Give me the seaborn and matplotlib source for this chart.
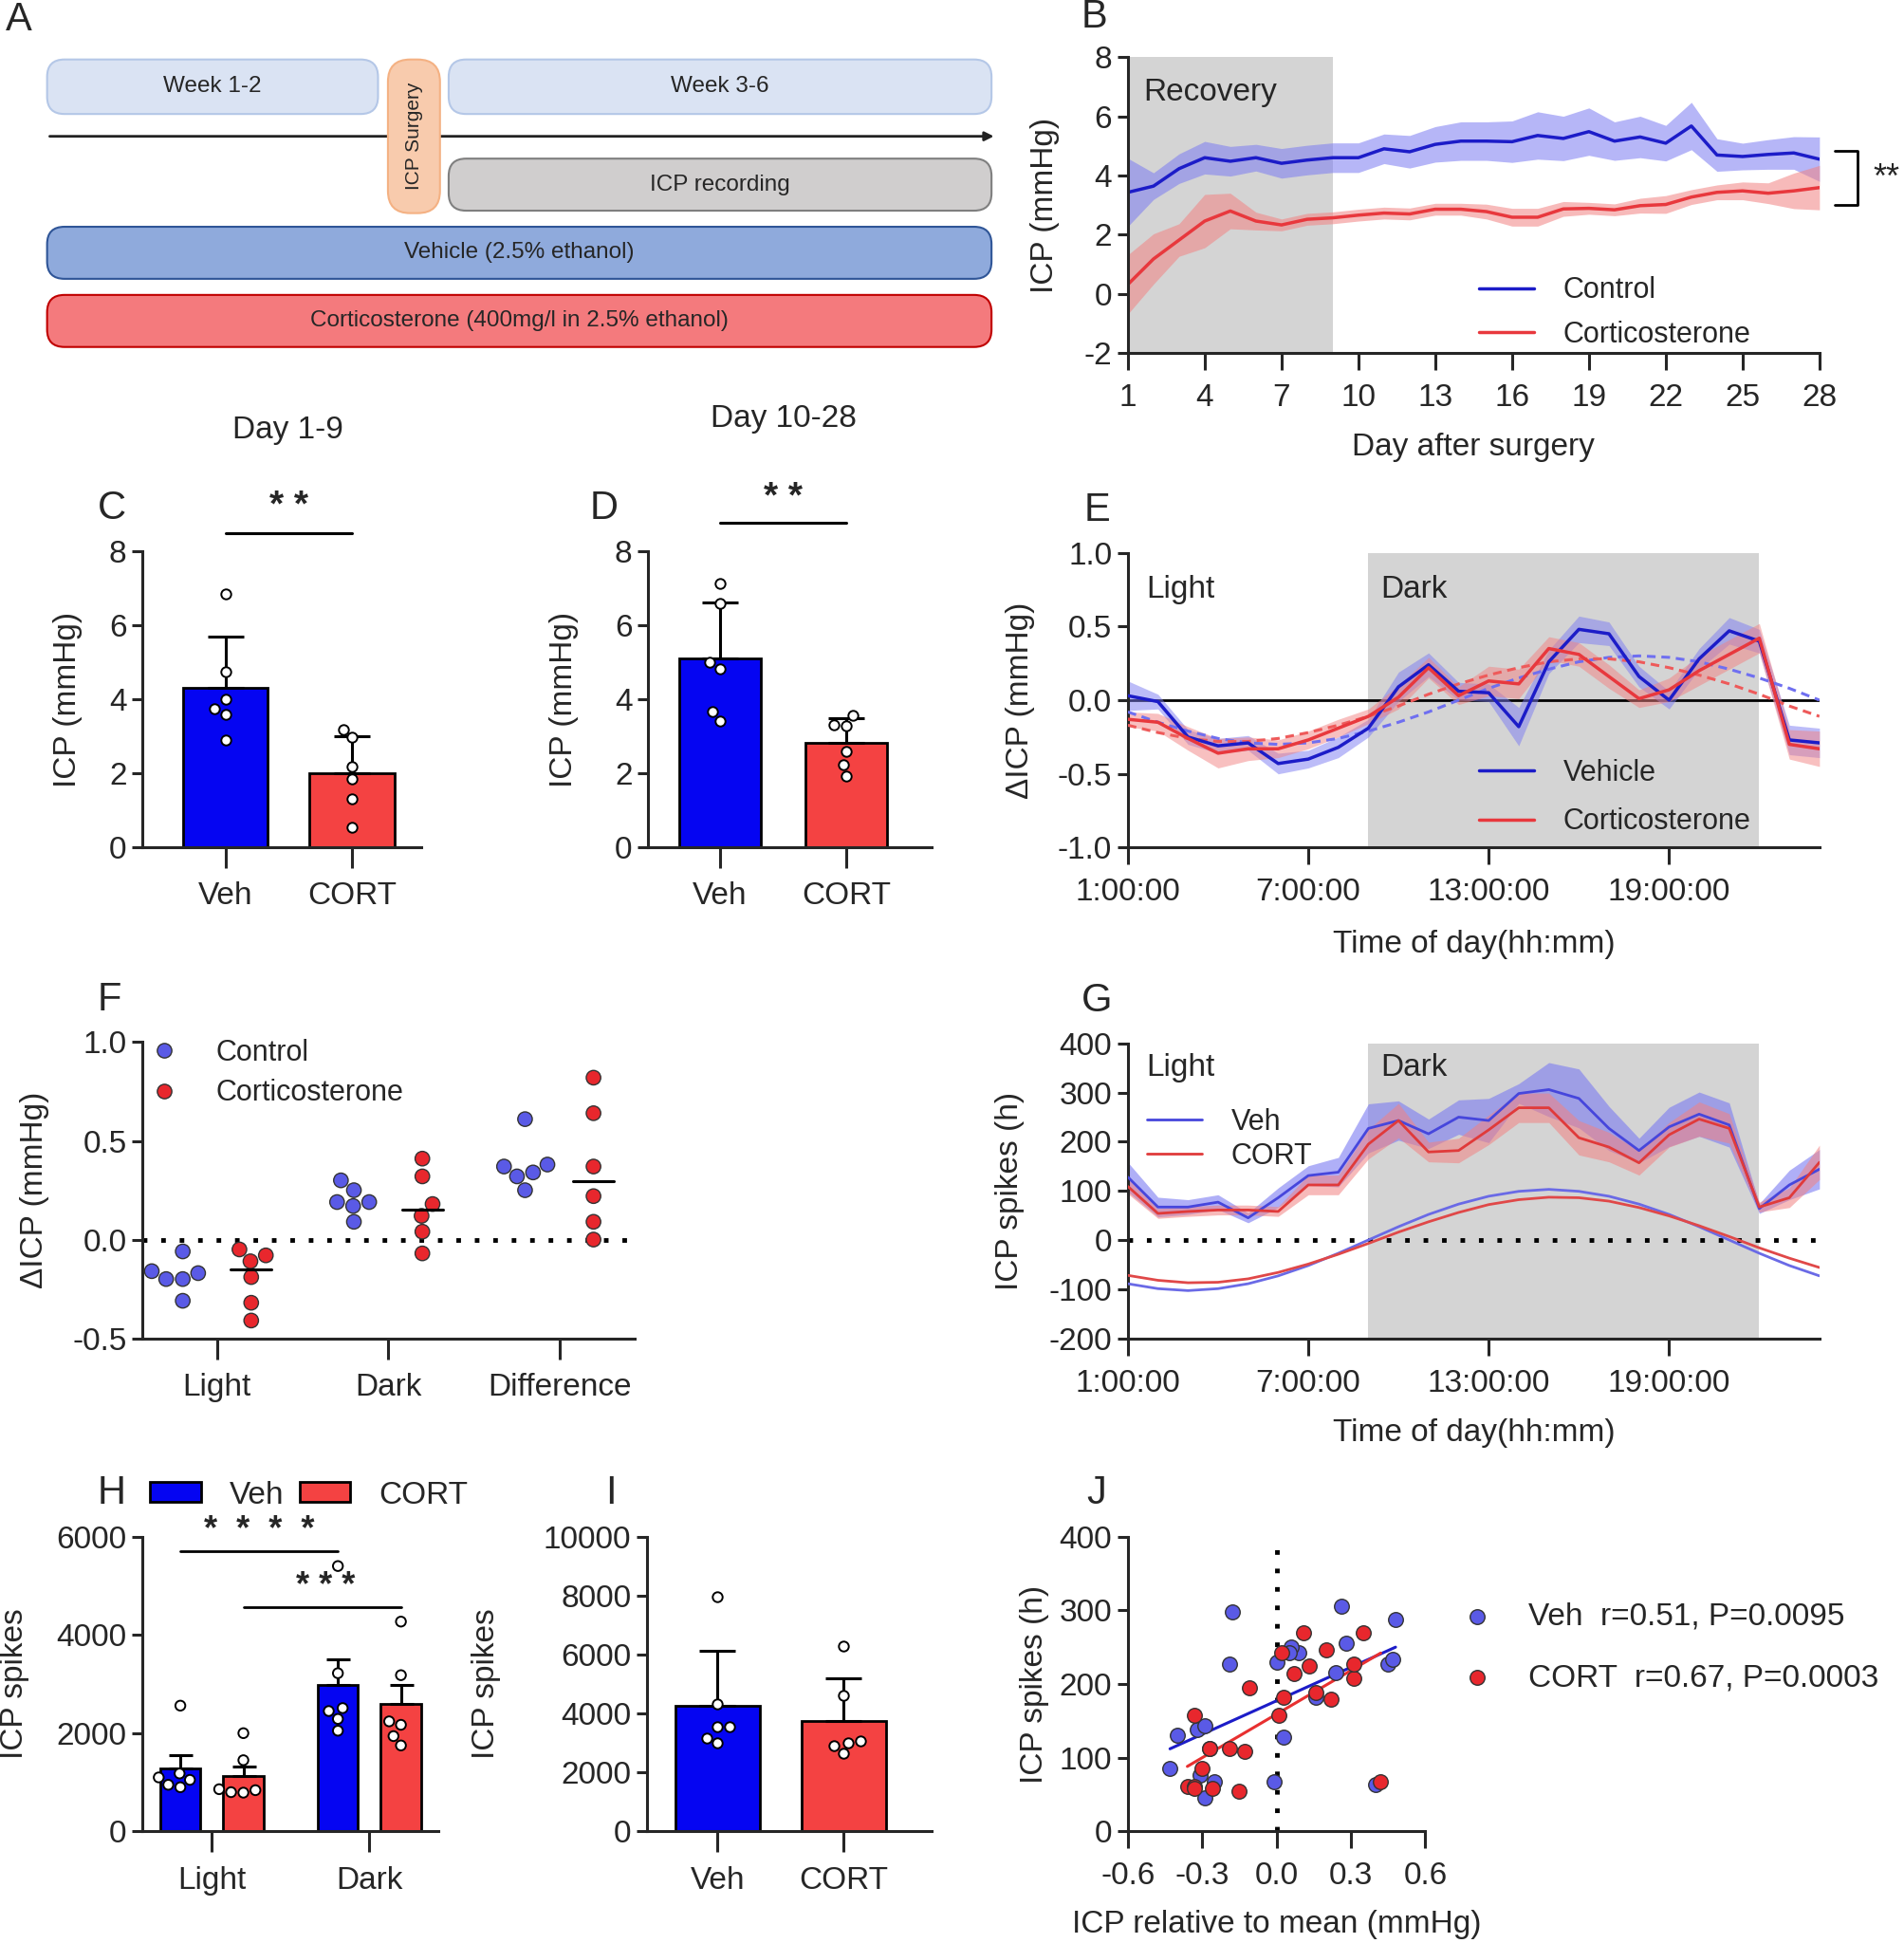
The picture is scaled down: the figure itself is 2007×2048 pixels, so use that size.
import numpy as np
import pandas as pd
import matplotlib.pyplot as plt
import seaborn as sns
from matplotlib.patches import FancyBboxPatch, Patch
from matplotlib.lines import Line2D

# ---------------- data ----------------
# B: daily ICP after surgery (mean, sem)
days = list(range(1, 29))
ctrl_icp = [3.43, 3.64, 4.23, 4.60, 4.48, 4.60, 4.41, 4.52, 4.60, 4.60, 4.90, 4.80, 5.05, 5.16,
            5.16, 5.14, 5.35, 5.25, 5.48, 5.16, 5.30, 5.09, 5.67, 4.69, 4.64, 4.71, 4.76, 4.55]
ctrl_sem = [1.15, 0.45, 0.50, 0.55, 0.50, 0.45, 0.50, 0.50, 0.50, 0.50, 0.50, 0.55, 0.60, 0.65,
            0.65, 0.70, 0.80, 0.75, 0.80, 0.65, 0.70, 0.60, 0.80, 0.55, 0.45, 0.50, 0.55, 0.75]
cort_icp = [0.32, 1.18, 1.82, 2.46, 2.80, 2.46, 2.33, 2.52, 2.57, 2.66, 2.73, 2.70, 2.86, 2.86,
            2.78, 2.59, 2.59, 2.87, 2.89, 2.84, 2.98, 3.02, 3.27, 3.43, 3.48, 3.40, 3.48, 3.59]
cort_sem = [1.00, 0.85, 0.55, 0.90, 0.60, 0.30, 0.20, 0.20, 0.20, 0.20, 0.20, 0.20, 0.20, 0.20,
            0.25, 0.30, 0.30, 0.25, 0.20, 0.20, 0.25, 0.30, 0.25, 0.25, 0.30, 0.35, 0.60, 0.75]

# C / D: mean ICP per animal
groups = ['Veh', 'CORT']
c_veh = [6.86, 4.75, 4.00, 3.74, 3.61, 2.90]
c_cort = [3.20, 2.97, 2.18, 1.86, 1.32, 0.54]
d_veh = [7.13, 6.59, 5.02, 4.84, 3.67, 3.43]
d_cort = [3.56, 3.32, 3.30, 2.60, 2.24, 1.93]

# E: hourly delta ICP (mean, sem) and cosinor fits
hours = list(range(1, 25))
hour_ticks = [1, 7, 13, 19]
hour_labels = ['1:00:00', '7:00:00', '13:00:00', '19:00:00']
veh_dicp = [0.03, -0.01, -0.25, -0.31, -0.29, -0.43, -0.40, -0.32, -0.19, 0.09, 0.24, 0.06,
            0.05, -0.18, 0.26, 0.48, 0.45, 0.16, 0.00, 0.28, 0.47, 0.40, -0.27, -0.29]
veh_dicp_sem = [0.10, 0.05, 0.05, 0.05, 0.05, 0.07, 0.06, 0.07, 0.06, 0.10, 0.08, 0.06,
                0.06, 0.13, 0.08, 0.09, 0.08, 0.07, 0.06, 0.07, 0.09, 0.08, 0.10, 0.10]
cort_dicp = [-0.13, -0.15, -0.26, -0.36, -0.33, -0.33, -0.27, -0.19, -0.11, 0.02, 0.22, 0.03,
             0.13, 0.11, 0.35, 0.31, 0.16, 0.01, 0.07, 0.20, 0.31, 0.42, -0.30, -0.33]
cort_dicp_sem = [0.05, 0.06, 0.08, 0.10, 0.08, 0.06, 0.06, 0.06, 0.05, 0.08, 0.07, 0.06,
                 0.10, 0.10, 0.08, 0.08, 0.08, 0.06, 0.08, 0.10, 0.10, 0.10, 0.10, 0.12]
veh_dicp_fit = [-0.08, -0.15, -0.21, -0.26, -0.29, -0.30, -0.29, -0.26, -0.21, -0.15, -0.08, 0.00,
                0.08, 0.15, 0.21, 0.26, 0.29, 0.30, 0.29, 0.26, 0.21, 0.15, 0.08, 0.00]
cort_dicp_fit = [-0.17, -0.22, -0.26, -0.28, -0.28, -0.26, -0.22, -0.17, -0.11, -0.04, 0.04, 0.11,
                 0.17, 0.22, 0.26, 0.28, 0.28, 0.26, 0.22, 0.17, 0.11, 0.04, -0.04, -0.11]

# F: light / dark / difference per animal
phases = ['Light', 'Dark', 'Difference']
ctrl_light = [-0.06, -0.16, -0.20, -0.17, -0.20, -0.31]
cort_light = [-0.05, -0.08, -0.11, -0.19, -0.32, -0.41]
ctrl_dark = [0.30, 0.25, 0.19, 0.19, 0.17, 0.09]
cort_dark = [0.41, 0.32, 0.18, 0.12, 0.04, -0.07]
ctrl_diff = [0.61, 0.38, 0.34, 0.37, 0.32, 0.25]
cort_diff = [0.82, 0.64, 0.37, 0.22, 0.09, 0.00]

# G: hourly ICP spikes (mean, sem) and cosinor fits
veh_spk = [128, 67, 67, 77, 45, 86, 131, 138, 227, 243, 216, 250,
           243, 298, 306, 288, 227, 182, 230, 256, 234, 64, 112, 144]
veh_spk_sem = [30, 20, 15, 15, 10, 20, 20, 30, 50, 40, 30, 35,
               45, 20, 55, 60, 45, 25, 40, 45, 45, 10, 30, 40]
cort_spk = [109, 54, 58, 61, 61, 58, 112, 112, 195, 243, 179, 182,
            224, 269, 269, 208, 189, 157, 214, 246, 227, 67, 86, 158]
cort_spk_sem = [15, 10, 10, 10, 10, 10, 20, 20, 30, 35, 20, 25,
                30, 30, 30, 35, 30, 25, 25, 35, 30, 10, 20, 35]
veh_spk_fit = [-89, -99, -103, -99, -89, -73, -52, -27, 0, 27, 52, 73,
               89, 99, 103, 99, 89, 73, 52, 27, 0, -27, -52, -73]
cort_spk_fit = [-72, -82, -87, -86, -79, -66, -49, -29, -7, 16, 37, 56,
                72, 82, 87, 86, 79, 66, 49, 29, 7, -16, -37, -56]

# H: spikes per phase per animal, I: total spikes
h_veh_light = [2560, 1180, 1100, 1050, 950, 900]
h_cort_light = [2000, 1450, 860, 840, 800, 790]
h_veh_dark = [5400, 3220, 2510, 2450, 2290, 2050]
h_cort_dark = [4270, 3180, 2240, 2170, 1940, 1750]
i_veh = [7960, 4310, 3560, 3560, 3180, 3020]
i_cort = [6280, 4630, 3080, 3020, 2900, 2650]

# ---------------- style ----------------
sns.set_style('ticks')
NARROW = ['Liberation Sans Narrow', 'Liberation Sans', 'DejaVu Sans']
WIDE = ['Liberation Sans', 'DejaVu Sans']
plt.rcParams['font.family'] = NARROW
plt.rcParams['axes.unicode_minus'] = False
plt.rcParams['axes.linewidth'] = 2.2
plt.rcParams['xtick.major.width'] = 2.2
plt.rcParams['ytick.major.width'] = 2.2
plt.rcParams['xtick.labelsize'] = 24
plt.rcParams['ytick.labelsize'] = 24

BLUE_BAR = '#0505f2'
RED_BAR = '#f44242'
BLUE_LINE = '#1c1cc8'
RED_LINE = '#e8383d'
BLUE_BAND = '#7b7bf2'
RED_BAND = '#f28282'
BLUE_PT = '#5a5ae6'
RED_PT = '#e8272d'
GRAY = '#d4d4d4'

W, H = 1537, 1568
fig = plt.figure(figsize=(20.08, 20.48), dpi=100)


def box(x0, y0, x1, y1):
    return [x0 / W, 1 - y1 / H, (x1 - x0) / W, (y1 - y0) / H]


def style(ax, xlen=11, ylen=8):
    sns.despine(ax=ax)
    ax.tick_params(axis='x', length=xlen, pad=10)
    ax.tick_params(axis='y', length=ylen, pad=4)


def ylab(ax, text, xfrac):
    ax.set_ylabel(text, fontsize=24, family=WIDE)
    ax.yaxis.label.set_va('center')
    ax.yaxis.set_label_coords(xfrac, 0.5)


def xlab(ax, text, yfrac):
    ax.set_xlabel(text, fontsize=24, family=WIDE)
    ax.xaxis.label.set_va('center')
    ax.xaxis.set_label_coords(0.5, yfrac)


def letter(ch, x, y):
    fig.text(x / W, 1 - y / H, ch, fontsize=30, family=WIDE, ha='center', va='center')


def up_err(ax, xs, vals, kind='sd', cap=14):
    m = [np.mean(v) for v in vals]
    if kind == 'sd':
        e = [np.std(v, ddof=1) for v in vals]
    else:
        e = [np.std(v, ddof=1) / np.sqrt(len(v)) for v in vals]
    ax.errorbar(xs, m, yerr=[np.zeros(len(e)), e], fmt='none', ecolor='black',
                elinewidth=2.2, capsize=cap, capthick=2.2, zorder=3)


# ---------------- A: timeline ----------------
axA = fig.add_axes(box(0, 0, 812, 290))
axA.set_xlim(0, 812)
axA.set_ylim(290, 0)
axA.axis('off')
rects = [
    (38, 48, 305, 92, '#dae3f3', '#b4c7e7', 'Week 1-2'),
    (362, 48, 800, 92, '#dae3f3', '#b4c7e7', 'Week 3-6'),
    (362, 128, 800, 170, '#d0cece', '#7f7f7f', 'ICP recording'),
    (38, 183, 800, 225, '#8faadc', '#2f5597', 'Vehicle (2.5% ethanol)'),
    (38, 238, 800, 280, '#f47a7d', '#c00000', 'Corticosterone (400mg/l in 2.5% ethanol)'),
]
for x0, y0, x1, y1, fc, ec, txt in rects:
    axA.add_patch(FancyBboxPatch((x0, y0), x1 - x0, y1 - y0,
                                 boxstyle='round,pad=0,rounding_size=14',
                                 fc=fc, ec=ec, lw=1.5))
    axA.text((x0 + x1) / 2, (y0 + y1) / 2, txt, ha='center', va='center', fontsize=17.5)
axA.annotate('', xy=(804, 110), xytext=(38, 110),
             arrowprops=dict(arrowstyle='-|>', lw=2, color='#222222', mutation_scale=14))
axA.add_patch(FancyBboxPatch((313, 48), 42, 124, boxstyle='round,pad=0,rounding_size=18',
                             fc='#f8cbad', ec='#f4b183', lw=1.5, zorder=3))
axA.text(334, 110, 'ICP Surgery', rotation=90, ha='center', va='center',
         fontsize=15, family=WIDE, zorder=4)

# ---------------- B: ICP over days ----------------
axB = fig.add_axes(box(910, 46, 1468, 285))
axB.axvspan(1, 9, color=GRAY, lw=0, zorder=0)
lo = np.array(ctrl_icp) - np.array(ctrl_sem)
hi = np.array(ctrl_icp) + np.array(ctrl_sem)
axB.fill_between(days, lo, hi, color=BLUE_BAND, alpha=0.55, lw=0)
lo = np.array(cort_icp) - np.array(cort_sem)
hi = np.array(cort_icp) + np.array(cort_sem)
axB.fill_between(days, lo, hi, color=RED_BAND, alpha=0.55, lw=0)
sns.lineplot(x=days, y=ctrl_icp, color=BLUE_LINE, lw=2.5, ax=axB, label='Control')
sns.lineplot(x=days, y=cort_icp, color=RED_LINE, lw=2.5, ax=axB, label='Corticosterone')
axB.set_xlim(1, 28)
axB.set_ylim(-2, 8)
axB.set_xticks(list(range(1, 29, 3)))
axB.set_yticks(list(range(-2, 9, 2)))
style(axB, xlen=13)
axB.text(4.2, 6.8, 'Recovery', fontsize=24, ha='center', va='center')
axB.legend(loc='lower left', bbox_to_anchor=(0.47, -0.075), frameon=False, fontsize=22,
           handlelength=1.9, handletextpad=1.0, labelspacing=0.55)
axB.plot([28.6, 29.5, 29.5, 28.6], [4.82, 4.82, 3.02, 3.02], color='black', lw=2, clip_on=False)
axB.text(30.6, 3.9, '**', fontsize=26, ha='center', va='center')
xlab(axB, 'Day after surgery', -0.318)
ylab(axB, 'ICP (mmHg)', -0.12)


# ---------------- C / D: bar charts ----------------
def bar_panel(ax, veh, cort, kind, width):
    df = pd.DataFrame({'group': ['Veh'] * len(veh) + ['CORT'] * len(cort),
                       'value': veh + cort})
    sns.barplot(data=df, x='group', y='value', hue='group', order=groups,
                palette={'Veh': BLUE_BAR, 'CORT': RED_BAR}, errorbar=None, saturation=1,
                width=width, edgecolor='black', linewidth=2, legend=False, ax=ax, zorder=2)
    up_err(ax, [0, 1], [veh, cort], kind)
    sns.swarmplot(data=df, x='group', y='value', order=groups, color='white',
                  edgecolor='black', linewidth=1.4, size=7.5, ax=ax, zorder=4)
    ax.set_xlabel('')


axC = fig.add_axes(box(115, 445, 340, 684))
bar_panel(axC, c_veh, c_cort, 'sd', 0.67)
axC.set_xlim(-0.657, 1.55)
axC.set_ylim(0, 8)
axC.set_yticks([0, 2, 4, 6, 8])
style(axC, xlen=16)
ylab(axC, 'ICP (mmHg)', -0.267)
axC.plot([0, 1], [8.5, 8.5], color='black', lw=2.2, clip_on=False)
axC.text(0.5, 9.2, '* *', fontsize=28, ha='center', va='center', fontweight='bold')
fig.text(232 / W, 1 - 347 / H, 'Day 1-9', fontsize=24, ha='center', va='center', family=WIDE)

axD = fig.add_axes(box(523, 445, 752, 684))
bar_panel(axD, d_veh, d_cort, 'sd', 0.65)
axD.set_xlim(-0.57, 1.68)
axD.set_ylim(0, 8)
axD.set_yticks([0, 2, 4, 6, 8])
style(axD, xlen=16)
ylab(axD, 'ICP (mmHg)', -0.297)
axD.plot([0, 1], [8.77, 8.77], color='black', lw=2.2, clip_on=False)
axD.text(0.5, 9.45, '* *', fontsize=28, ha='center', va='center', fontweight='bold')
fig.text(632 / W, 1 - 338 / H, 'Day 10-28', fontsize=24, ha='center', va='center', family=WIDE)

# ---------------- E: delta ICP over the day ----------------
axE = fig.add_axes(box(910, 446, 1468, 684))
axE.axvspan(9, 22, color=GRAY, lw=0, zorder=0)
axE.axhline(0, color='black', lw=2, zorder=1)
for y, s, c in [(veh_dicp, veh_dicp_sem, BLUE_BAND), (cort_dicp, cort_dicp_sem, RED_BAND)]:
    axE.fill_between(hours, np.array(y) - np.array(s), np.array(y) + np.array(s),
                     color=c, alpha=0.5, lw=0, zorder=2)
sns.lineplot(x=hours, y=veh_dicp_fit, color='#6f6ff0', lw=2.2, ax=axE, zorder=3)
sns.lineplot(x=hours, y=cort_dicp_fit, color='#ee5a5a', lw=2.2, ax=axE, zorder=3)
for ln in axE.lines[-2:]:
    ln.set_linestyle((0, (3, 2)))
sns.lineplot(x=hours, y=veh_dicp, color=BLUE_LINE, lw=2.5, ax=axE, label='Vehicle', zorder=4)
sns.lineplot(x=hours, y=cort_dicp, color=RED_LINE, lw=2.5, ax=axE, label='Corticosterone', zorder=4)
axE.set_xlim(1, 24)
axE.set_ylim(-1, 1)
axE.set_xticks(hour_ticks)
axE.set_xticklabels(hour_labels)
axE.set_yticks([-1, -0.5, 0, 0.5, 1])
axE.set_yticklabels(['-1.0', '-0.5', '0.0', '0.5', '1.0'])
style(axE, xlen=13)
axE.text(2.75, 0.75, 'Light', fontsize=24, ha='center', va='center')
axE.text(10.5, 0.75, 'Dark', fontsize=24, ha='center', va='center')
axE.legend(loc='lower left', bbox_to_anchor=(0.47, -0.05), frameon=False, fontsize=22,
           handlelength=1.9, handletextpad=1.0, labelspacing=0.7)
xlab(axE, 'Time of day(hh:mm)', -0.328)
ylab(axE, 'ΔICP (mmHg)', -0.156)

# ---------------- F: light / dark scatter ----------------
rows = []
for ph, cv, rv in [('Light', ctrl_light, cort_light), ('Dark', ctrl_dark, cort_dark),
                   ('Difference', ctrl_diff, cort_diff)]:
    rows += [(ph, 'Control', v) for v in cv]
    rows += [(ph, 'Corticosterone', v) for v in rv]
dfF = pd.DataFrame(rows, columns=['phase', 'group', 'value'])
axF = fig.add_axes(box(115, 841, 512, 1080))
axF.axhline(0, color='black', lw=3.5, ls=(0, (1, 3)), zorder=1)
sns.swarmplot(data=dfF, x='phase', y='value', hue='group', order=phases,
              hue_order=['Control', 'Corticosterone'], palette=[BLUE_PT, RED_PT],
              dodge=True, size=11, edgecolor='#333333', linewidth=1, legend=False,
              ax=axF, zorder=3)
med = dfF[dfF.group == 'Corticosterone'].groupby('phase')['value'].median()
for i, ph in enumerate(phases):
    axF.plot([i + 0.2 - 0.12, i + 0.2 + 0.12], [med[ph], med[ph]], color='black', lw=2.2, zorder=4)
axF.set_xlim(-0.435, 2.44)
axF.set_ylim(-0.5, 1.0)
axF.set_yticks([-0.5, 0, 0.5, 1.0])
axF.set_yticklabels(['-0.5', '0.0', '0.5', '1.0'])
axF.set_xlabel('')
style(axF, xlen=16)
ylab(axF, 'ΔICP (mmHg)', -0.219)
hF = [Line2D([], [], ls='', marker='o', ms=11, mfc=BLUE_PT, mec='#333333'),
      Line2D([], [], ls='', marker='o', ms=11, mfc=RED_PT, mec='#333333')]
axF.legend(hF, ['Control', 'Corticosterone'], loc='upper left', bbox_to_anchor=(-0.01, 1.05),
           frameon=False, fontsize=22, handlelength=1.0, handletextpad=1.3, labelspacing=0.4,
           borderaxespad=0)

# ---------------- G: ICP spikes over the day ----------------
axG = fig.add_axes(box(910, 842, 1468, 1080))
axG.axvspan(9, 22, color=GRAY, lw=0, zorder=0)
axG.axhline(0, color='black', lw=3.5, ls=(0, (1, 3)), zorder=1)
for y, s, c, a in [(veh_spk, veh_spk_sem, BLUE_BAND, 0.6), (cort_spk, cort_spk_sem, RED_BAND, 0.55)]:
    axG.fill_between(hours, np.array(y) - np.array(s), np.array(y) + np.array(s),
                     color=c, alpha=a, lw=0, zorder=2)
sns.lineplot(x=hours, y=veh_spk, color='#4646dc', lw=2, ax=axG, label='Veh', zorder=4)
sns.lineplot(x=hours, y=cort_spk, color='#e03a3a', lw=2, ax=axG, label='CORT', zorder=4)
sns.lineplot(x=hours, y=veh_spk_fit, color='#6a6ae6', lw=2, ax=axG, zorder=3)
sns.lineplot(x=hours, y=cort_spk_fit, color='#e04848', lw=2, ax=axG, zorder=3)
axG.set_xlim(1, 24)
axG.set_ylim(-200, 400)
axG.set_xticks(hour_ticks)
axG.set_xticklabels(hour_labels)
axG.set_yticks(list(range(-200, 401, 100)))
style(axG, xlen=13)
axG.text(2.75, 350, 'Light', fontsize=24, ha='center', va='center')
axG.text(10.5, 350, 'Dark', fontsize=24, ha='center', va='center')
axG.legend(loc='upper left', bbox_to_anchor=(-0.01, 0.87), frameon=False, fontsize=22,
           handlelength=1.9, handletextpad=1.0, labelspacing=0.2)
xlab(axG, 'Time of day(hh:mm)', -0.32)
ylab(axG, 'ICP spikes (h)', -0.17)

# ---------------- H: spikes light / dark ----------------
rows = []
for ph, vv, cv in [('Light', h_veh_light, h_cort_light), ('Dark', h_veh_dark, h_cort_dark)]:
    rows += [(ph, 'Veh', v) for v in vv]
    rows += [(ph, 'CORT', v) for v in cv]
dfH = pd.DataFrame(rows, columns=['phase', 'group', 'value'])
axH = fig.add_axes(box(115, 1240, 354, 1478))
sns.barplot(data=dfH, x='phase', y='value', hue='group', order=['Light', 'Dark'],
            hue_order=groups, palette={'Veh': BLUE_BAR, 'CORT': RED_BAR}, errorbar=None,
            saturation=1, gap=0.36, edgecolor='black', linewidth=2, legend=False,
            ax=axH, zorder=2)
up_err(axH, [-0.2, 0.2, 0.8, 1.2], [h_veh_light, h_cort_light, h_veh_dark, h_cort_dark],
       'sem', cap=9)
sns.swarmplot(data=dfH, x='phase', y='value', hue='group', order=['Light', 'Dark'],
              hue_order=groups, palette={'Veh': 'white', 'CORT': 'white'}, dodge=True,
              edgecolor='black', linewidth=1.4, size=7.5, legend=False, ax=axH, zorder=4)
axH.set_xlim(-0.44, 1.44)
axH.set_ylim(0, 6000)
axH.set_yticks([0, 2000, 4000, 6000])
axH.set_xlabel('')
style(axH, xlen=16)
ylab(axH, 'ICP spikes', -0.43)
axH.plot([-0.2, 0.8], [5710, 5710], color='black', lw=2, clip_on=False)
axH.text(0.3, 6120, '*  *  *  *', fontsize=26, ha='center', va='center', fontweight='bold')
axH.plot([0.2, 1.2], [4560, 4560], color='black', lw=2, clip_on=False)
axH.text(0.72, 4980, '* * *', fontsize=26, ha='center', va='center', fontweight='bold')
hH = [Patch(fc=BLUE_BAR, ec='black', lw=2), Patch(fc=RED_BAR, ec='black', lw=2)]
axH.legend(hH, ['Veh', 'CORT'], loc='center left', bbox_to_anchor=(-0.07, 1.14), ncol=2,
           frameon=False, fontsize=24, handlelength=1.6, handleheight=0.6,
           handletextpad=0.9, columnspacing=0.5)

# ---------------- I: total spikes ----------------
axI = fig.add_axes(box(522, 1240, 752, 1478))
bar_panel(axI, i_veh, i_cort, 'sd', 0.67)
axI.set_xlim(-0.56, 1.7)
axI.set_ylim(0, 10000)
axI.set_yticks(list(range(0, 10001, 2000)))
style(axI, xlen=16)
ylab(axI, 'ICP spikes', -0.565)

# ---------------- J: correlation ----------------
axJ = fig.add_axes(box(910, 1240, 1150, 1478))
axJ.axvline(0, color='black', lw=3.5, ls=(0, (1, 3)), zorder=1)
sns.regplot(x=veh_dicp, y=veh_spk, scatter=False, ci=None, color='#1c1cc8',
            line_kws={'lw': 2.2, 'zorder': 2}, ax=axJ)
sns.regplot(x=cort_dicp, y=cort_spk, scatter=False, ci=None, color='#e83030',
            line_kws={'lw': 2.2, 'zorder': 2}, ax=axJ)
sns.scatterplot(x=veh_dicp, y=veh_spk, color=BLUE_PT, edgecolor='#333333', linewidth=1,
                s=125, ax=axJ, zorder=3, label='Veh  r=0.51, P=0.0095')
sns.scatterplot(x=cort_dicp, y=cort_spk, color=RED_PT, edgecolor='#333333', linewidth=1,
                s=125, ax=axJ, zorder=3, label='CORT  r=0.67, P=0.0003')
axJ.set_xlim(-0.6, 0.6)
axJ.set_ylim(0, 400)
axJ.set_xticks([-0.6, -0.3, 0, 0.3, 0.6])
axJ.set_xticklabels(['-0.6', '-0.3', '0.0', '0.3', '0.6'])
axJ.set_yticks([0, 100, 200, 300, 400])
style(axJ, xlen=13)
axJ.legend(loc='upper left', bbox_to_anchor=(1.08, 0.82), frameon=False, fontsize=24,
           handlelength=1.0, handletextpad=1.1, labelspacing=1.0, borderaxespad=0)
xlab(axJ, 'ICP relative to mean (mmHg)', -0.315)
ylab(axJ, 'ICP spikes (h)', -0.3125)

# ---------------- panel letters ----------------
for ch, x, y in [('A', 15, 16), ('B', 883, 14), ('C', 90, 410), ('D', 487, 410),
                 ('E', 885, 412), ('F', 88, 807), ('G', 885, 808), ('H', 90, 1205),
                 ('I', 493, 1205), ('J', 885, 1205)]:
    letter(ch, x, y)

fig.savefig('out.png', dpi=100)
